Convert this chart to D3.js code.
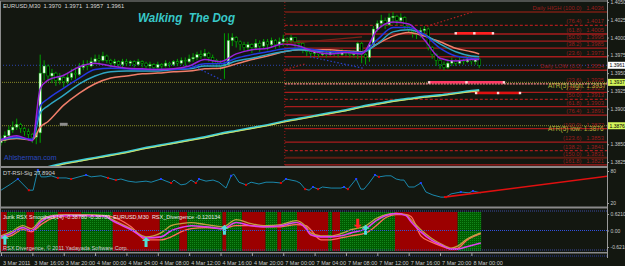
<!DOCTYPE html>
<html>
<head>
<meta charset="utf-8">
<script src="https://d3js.org/d3.v7.min.js"></script>
<style>
body { margin: 0; background: #131710; }
text { font-family: "Liberation Sans", Arial, sans-serif; }
</style>
</head>
<body>
<div id="chart"></div>
<script>
// EURUSD M30 "Walking The Dog" chart
var width = 625, height = 266;
var axisX = 607;

// candles, prices in pips above 1.3800 (open = previous close)
var firstOpen = 52;
var closePips = [55,62,70,74,78,72,68,64,60,66, 150,160,146,150,140,144,138,144,150,148,
  158,162,160,166,170,168,174,168,164,166, 162,166,164,166,162,166,164,160,162,158,
  162,160,164,162,166,164,168,166,170,172, 176,174,178,172,168,164,160,162,196,200,
  194,190,186,190,186,192,188,194,190,196, 190,194,198,196,200,194,192,184,180,178,
  180,176,178,176,180,178,176,180,178,176, 178,192,176,172,190,212,220,224,218,228,
  230,224,228,216,212,208,204,210,212,186, 176,168,162,158,164,168,164,168,166,170,
  166,170,161];
var highPips = [62,68,76,82,86,80,74,72,66,72, 176,168,162,156,152,150,148,150,156,158,
  164,168,168,172,176,176,180,176,170,170, 168,170,170,168,168,170,168,166,166,164,
  166,164,168,166,168,170,172,172,176,178, 180,182,184,180,176,170,168,206,206,206,
  202,196,194,194,192,198,196,198,198,200, 198,200,204,200,204,200,196,194,186,184,
  184,182,184,182,184,182,182,184,182,182, 182,194,194,178,194,216,224,232,228,234,
  236,232,234,230,218,214,212,214,216,214, 188,178,170,166,168,172,170,172,170,174,
  172,172,171];
var lowPips = [48,52,60,66,70,66,62,58,52,50, 52,140,138,136,132,134,130,134,140,142,
  146,154,154,158,162,162,166,164,158,160, 156,158,160,160,158,160,158,156,154,154,
  156,154,158,158,160,160,162,160,164,166, 168,170,172,166,162,158,154,142,160,188,
  186,182,180,182,178,182,180,184,182,186, 184,186,188,188,192,186,184,178,174,172,
  174,172,174,172,174,174,172,174,174,172, 172,170,164,162,166,188,208,214,212,216,
  220,218,220,212,206,200,198,200,206,182, 170,160,156,154,156,160,160,162,162,164,
  162,162,157];

var timeLabels = ["3 Mar 2011","3 Mar 16:00","3 Mar 20:00","4 Mar 00:00","4 Mar 04:00","4 Mar 08:00",
  "4 Mar 12:00","4 Mar 16:00","4 Mar 20:00","7 Mar 00:00","7 Mar 04:00","7 Mar 08:00",
  "7 Mar 12:00","7 Mar 16:00","7 Mar 20:00","8 Mar 00:00"];
// 1.3875 sits under the ATR low box, so it has no label of its own
var priceTicks = [1.4050,1.4025,1.4000,1.3975,1.3950,1.3925,1.3900,1.3850,1.3825];

// moving averages (pips above 1.3800) at these bars
var maBars   = [0,4,8,10,12,16,20,24,28,32,36,40,44,48,52,56,60,64,68,72,76,80,84,88,92,96,100,104,108,112,116,120,122];
var maPurple = [56,62,55,128,140,147,159,164,160,157,156,155,156,160,169,166,177,183,185,191,188,180,177,179,177,211,222,219,197,171,167,169,169];
var maBlue   = [57,60,57,104,114,129,143,155,157,156,155,155,155,157,163,163,171,176,180,184,185,183,180,180,179,197,214,214,204,185,174,171,170];
var maCyan   = [56,59,56,94,104,119,135,146,152,153,153,153,155,156,160,160,167,171,176,180,183,181,180,180,179,191,208,211,204,191,180,174,173];
var maSalmon = [55,58,56,74,82,105,122,135,143,146,149,150,152,153,156,157,163,169,174,180,183,183,183,181,180,191,202,207,202,194,185,180,177];
var maLong   = [null,null,null,null,18,23,27,31,35,39,44,48,52,56,60,65,69,73,77,82,86,90,94,98,103,107,111,114,117,119,122,125,126];

// daily fibonacci levels
var fibBar = 72.4;
var fibPct   = [100.0,76.4,61.8,50.0,38.2,23.6,0.0, 23.6,38.2,50.0,61.8,76.4,100.0,123.6,138.2,150.0,161.8];
var fibPrice = [1.4036,1.4017,1.4005,1.3995,1.3985,1.3973,1.3954, 1.3935,1.3923,1.3913,1.3903,1.3891,1.3872,1.3853,1.3841,1.3831,1.3821];
var fibName  = ["Daily HIGH ","","","","","","Daily LOW ", "","","","","","","","","",""];
var fibStyle = ["dark","dash","solid","solid","solid","solid","solid", "pink","solid","dash","solid","solid","solid","solid","dash","dark","solid"];
var atrHigh = 1.3937, atrLow = 1.3876;

// pivot segments
var segStart = [116, 109.2, 121.2];
var segEnd   = [125.5, 128.3, 132.4];
var segPrice = [1.4006, 1.3937, 1.3922];
var segColor = ["#ff2020", "#ff3a66", "#e01010"];

// trend lines
var trBar0 = [71.9, 108.7, 71.9, 48.7, 78.8];
var trBar1 = [92.1, 120.4, 77.6, 56.4, 92.3];
var trP0   = [1.3991, 1.4016, 1.3954, 1.3961, 1.3973];
var trP1   = [1.4001, 1.4036, 1.3963, 1.3940, 1.3957];
var trColor = ["#7a2018", "#b02020", "#b02020", "#2a40c8", "#2a40c8"];
var trDash  = [null, "1.5,2", "1.5,2", "1.5,2", "1.5,2"];

// DT-RSI-Sig
var rsiBars = [0,2.5,4.3,7.1,8.2,9.4,10.2,11.5,12.8,14.5,16.6,17.9,19.9,21.7,23,25.5,27.3,29.3,30.6,32.4,
  34.4,37,38.3,40.8,42.1,43.4,44.1,45.9,47.2,48.5,49.7,50.5,52.3,54.1,55.6,57.4,58.7,59.4,60.7,62.5,
  63.8,65.8,67.6,69.4,71.4,72.7,75.3,76.3,77.6,78.6,79.6,80.9,82,84.2,86.7,87.5,88.5,90.6,91.8,92.6,
  93.9,95.4,96.4,98.2,99.5,100.8,102,102.8,104,105.4,107.1,108.4,110.2,112.2,113.5,114.8,117.3,119.4,120.4,122.4];
var rsiVals = [44,55.6,65,44,44,82,69,69,71,67,67,65,69,72.5,69,71,67,63,65,61,
  59,61,59,65,61,57.5,63,54,55.6,63,57.5,65,61,63,59,48,71,74,59,54,
  59,55.6,59,59,57.5,65,61,57.5,46,44,50,46,50,48,48,50,46,65,46,46,
  57.5,72.5,69,71,71,65,63,63,50,50,57.5,40.6,35,31,31,37,40.6,39,42.5,39];
var rsiMarks = ["","","b","r","","b","","","","r","","r","","b","","","r","r","","",
  "","","","b","","r","","","","","r","b","","","","","b","","","r",
  "","","","","r","b","","","r","","b","r","","","","b","r","b","","",
  "","b","r","","","","","","","","b","","","","r","","b","","b",""];
var rsiTrendBars = [113, 155];
var rsiTrendVals = [31, 70.5];

// Jurik RSX panel
var bandStarts = [0,2,7,9,15,21,29,41,46,48,57,58,62,68,71,72,76,84,85,87,101,117];
var bandColors = ["r","g","r","g","r","g","r","g","r","g","r","g","r","g","r","g","r","g","r","g","r","g"];
var jBars    = [0,2.5,5.6,7.7,10.2,12.8,16.6,21.7,26.8,28,33.2,37,40.8,43.4,45.9,48.5,52.3,56.6,60,63.8,67.6,71.4,75.3,77.8,79,81.6,84.2,86.7,89.3,93.1,95.7,98.2,100.8,103.3,104.6,107.1,109.7,112.2,114.8,116.6,118.6,122.4];
var jMagenta = [-0.24,-0.12,0.11,-0.01,0.33,0.53,0.56,0.56,0.53,0.41,0.03,-0.28,-0.24,-0.01,0.11,0.18,0.14,0.07,0.30,0.18,0.14,0.18,0.30,0.07,-0.16,-0.24,-0.24,-0.20,-0.09,0.07,0.37,0.56,0.64,0.56,0.33,-0.05,-0.35,-0.54,-0.70,-0.70,-0.62,-0.47];
var jOlive   = [-0.20,-0.05,0.18,0.07,0.41,0.56,0.60,0.60,0.56,0.45,0.07,-0.24,-0.09,0.18,0.26,0.30,0.22,0.14,0.41,0.26,0.18,0.22,0.37,0.14,-0.09,-0.20,-0.20,-0.12,0.03,0.18,0.45,0.60,0.64,0.60,0.41,0.03,-0.28,-0.50,-0.66,-0.58,-0.35,-0.09];
var jSalmon  = [-0.28,-0.20,0.03,-0.05,0.22,0.45,0.56,0.56,0.56,0.53,0.14,-0.35,-0.35,-0.24,-0.05,0.07,0.11,0.07,0.18,0.18,0.14,0.14,0.22,0.18,0.03,-0.35,-0.35,-0.28,-0.20,-0.09,0.18,0.49,0.60,0.60,0.53,-0.20,-0.43,-0.58,-0.70,-0.66,-0.39,-0.12];
var arrowBars = [1, 37, 57, 93, 91];
var arrowVals = [-0.16, -0.24, 0.22, 0.22, 0.07];
var arrowDir  = ["up", "up", "up", "up", "down"];

var x = d3.scaleLinear().domain([0, 155]).range([1, 1 + 155 * 3.92]);
var yP = d3.scaleLinear().domain([1.3825, 1.4050]).range([162, 2]);
var yR = d3.scaleLinear().domain([20, 80]).range([203, 171]);
var yJ = d3.scaleLinear().domain([-0.62107, 0.62107]).range([247, 214]);
var pip = function(v){ return 1.38 + v / 10000; };

var svg = d3.select("#chart").append("svg").attr("width", width).attr("height", height)
  .style("display", "block").style("background", "#131710");

var defs = svg.append("defs");
defs.append("clipPath").attr("id", "clipMain").append("rect").attr("x", 0).attr("y", 2).attr("width", axisX).attr("height", 164);
defs.append("clipPath").attr("id", "clipRsi").append("rect").attr("x", 0).attr("y", 168).attr("width", axisX).attr("height", 38);
defs.append("clipPath").attr("id", "clipJ").append("rect").attr("x", 0).attr("y", 212).attr("width", axisX).attr("height", 39);
var pat = defs.append("pattern").attr("id", "dots").attr("width", 2).attr("height", 2).attr("patternUnits", "userSpaceOnUse");
pat.append("rect").attr("width", 2).attr("height", 2).attr("fill", "#005c00");
pat.append("rect").attr("width", 1).attr("height", 1).attr("fill", "#12861a");

// ---------- main price panel ----------
var main = svg.append("g").attr("clip-path", "url(#clipMain)");

main.selectAll("line.atr").data([atrHigh, atrLow]).enter().append("line")
  .attr("x1", 0).attr("x2", axisX)
  .attr("y1", function(d){ return yP(d); }).attr("y2", function(d){ return yP(d); })
  .attr("stroke", "#8a8a2a").attr("stroke-dasharray", "1,1");

var lastClose = pip(closePips[closePips.length - 1]);
main.append("line").attr("x1", 0).attr("x2", axisX).attr("y1", yP(lastClose)).attr("y2", yP(lastClose))
  .attr("stroke", "#2c44b0").attr("stroke-dasharray", "1,2");

main.append("line").attr("x1", x(fibBar)).attr("x2", x(fibBar)).attr("y1", 2).attr("y2", 166)
  .attr("stroke", "#a01818").attr("stroke-dasharray", "1,2");

var fibColor = { dark: "#5e1c12", dash: "#a81c1c", solid: "#a81c1c", pink: "#ff8a8a" };
main.selectAll("line.fib").data(fibPrice).enter().append("line")
  .attr("x1", x(fibBar)).attr("x2", axisX)
  .attr("y1", function(d){ return yP(d); }).attr("y2", function(d){ return yP(d); })
  .attr("stroke", function(d, i){ return fibColor[fibStyle[i]]; })
  .attr("stroke-width", function(d, i){ return fibStyle[i] === "dark" ? 2 : 1.3; })
  .attr("stroke-dasharray", function(d, i){ return fibStyle[i] === "dash" ? "3,2" : (fibStyle[i] === "pink" ? "2,1" : null); });

main.selectAll("text.fib").data(fibPrice).enter().append("text")
  .attr("x", 604).attr("y", function(d){ return yP(d) - 2; })
  .attr("text-anchor", "end").attr("font-size", "5.8px").attr("fill", "#9a1c1c")
  .style("white-space", "pre")
  .text(function(d, i){ return fibName[i] + "(" + fibPct[i].toFixed(1) + ")   " + d.toFixed(4); });

main.selectAll("text.atr").data([["high", atrHigh], ["low", atrLow]]).enter().append("text")
  .attr("x", 548).attr("y", function(d){ return yP(d[1]) + 5.5; })
  .attr("font-size", "6.5px").attr("fill", "#b4b43a")
  .text(function(d){ return "ATR(5) " + d[0] + ": " + d[1].toFixed(4); });

// candles
var bars = closePips.map(function(c, i){
  return { i: i, o: pip(i ? closePips[i - 1] : firstOpen), h: pip(highPips[i]), l: pip(lowPips[i]), c: pip(c) };
});
var cg = main.append("g");
cg.selectAll("line").data(bars).enter().append("line")
  .attr("x1", function(d){ return x(d.i); }).attr("x2", function(d){ return x(d.i); })
  .attr("y1", function(d){ return yP(d.h); }).attr("y2", function(d){ return yP(d.l); })
  .attr("stroke", "#00a000");
cg.selectAll("rect").data(bars).enter().append("rect")
  .attr("x", function(d){ return x(d.i) - 1.2; }).attr("width", 2.4)
  .attr("y", function(d){ return yP(Math.max(d.o, d.c)); })
  .attr("height", function(d){ return Math.max(0.8, Math.abs(yP(d.o) - yP(d.c))); })
  .attr("fill", function(d){ return d.c >= d.o ? "#f2fff2" : "#000"; })
  .attr("stroke", "#00c000").attr("stroke-width", 0.5);

// moving averages
var maLine = d3.line()
  .defined(function(d){ return d[1] != null; })
  .x(function(d){ return x(d[0]); })
  .y(function(d){ return yP(pip(d[1])); })
  .curve(d3.curveMonotoneX);
function maPts(vals){ return maBars.map(function(b, i){ return [b, vals[i]]; }); }

main.append("path").attr("d", maLine(maPts(maLong))).attr("fill", "none").attr("stroke", "#3ccbd8").attr("stroke-width", 2.2);
main.append("path").attr("d", maLine(maPts(maLong))).attr("transform", "translate(0,0.8)").attr("fill", "none").attr("stroke", "#e4e65a").attr("stroke-width", 0.9);

[[maSalmon, "#f07e6a"], [maCyan, "#2fa6c4"], [maBlue, "#2438e0"], [maPurple, "#9a22d8"]].forEach(function(m){
  main.append("path").attr("d", maLine(maPts(m[0]))).attr("fill", "none").attr("stroke", m[1]).attr("stroke-width", 1.5);
});

// trend lines
trBar0.forEach(function(b, i){
  main.append("line").attr("x1", x(b)).attr("x2", x(trBar1[i]))
    .attr("y1", yP(trP0[i])).attr("y2", yP(trP1[i]))
    .attr("stroke", trColor[i]).attr("stroke-width", 1.2).attr("stroke-dasharray", trDash[i]);
});

// pivot segments
segStart.forEach(function(b, i){
  var yy = yP(segPrice[i]);
  main.append("line").attr("x1", x(b)).attr("x2", x(segEnd[i])).attr("y1", yy).attr("y2", yy)
    .attr("stroke", segColor[i]).attr("stroke-width", 2.5);
  [b, (b + segEnd[i]) / 2, segEnd[i]].forEach(function(bb){
    main.append("rect").attr("x", x(bb) - 1.2).attr("y", yy - 1.2).attr("width", 2.4).attr("height", 2.4).attr("fill", "#ffd8d8");
  });
});

main.append("rect").attr("x", x(15)).attr("width", x(17) - x(15)).attr("y", yP(1.3878) - 1.5).attr("height", 3).attr("fill", "#8c8c8c");

svg.append("text").attr("x", 138).attr("y", 22).attr("font-size", "12.5px").attr("font-weight", "bold")
  .attr("font-style", "italic").attr("fill", "#38c8c8").attr("textLength", 97).attr("lengthAdjust", "spacingAndGlyphs")
  .style("white-space", "pre").text("Walking  The Dog");

var lb = bars[bars.length - 1];
svg.append("text").attr("x", 3).attr("y", 7.5).attr("font-size", "5.8px").attr("fill", "#d8d8d8")
  .style("white-space", "pre")
  .text("EURUSD,M30  " + [lb.o, lb.h, lb.l, lb.c].map(function(v){ return v.toFixed(4); }).join("  "));

svg.append("text").attr("x", 4).attr("y", 160).attr("font-size", "7px").attr("fill", "#2a48c0").text("Ahlsherman.com");

// ---------- RSI panel ----------
var rsiG = svg.append("g").attr("clip-path", "url(#clipRsi)");
var rsiLine = d3.line().x(function(d, i){ return x(rsiBars[i]); }).y(function(d){ return yR(d); });
rsiG.append("path").attr("d", rsiLine(rsiVals)).attr("fill", "none").attr("stroke", "#1a88ac").attr("stroke-width", 1);
rsiG.append("line").attr("x1", x(rsiTrendBars[0])).attr("x2", x(rsiTrendBars[1]))
  .attr("y1", yR(rsiTrendVals[0])).attr("y2", yR(rsiTrendVals[1]))
  .attr("stroke", "#e01010").attr("stroke-width", 1.6);
var rsiDots = rsiVals.map(function(v, i){ return { b: rsiBars[i], v: v, m: rsiMarks[i] }; })
  .filter(function(d){ return d.m !== ""; });
rsiG.selectAll("rect.dot").data(rsiDots).enter().append("rect")
  .attr("x", function(d){ return x(d.b) - 1; })
  .attr("y", function(d){ return yR(d.v) - 1; })
  .attr("width", 2).attr("height", 2)
  .attr("fill", function(d){ return d.m === "r" ? "#e00000" : "#2040ff"; });
svg.append("text").attr("x", 3).attr("y", 174.5).attr("font-size", "5.8px").attr("fill", "#d0d0d0").text("DT-RSI-Sig 27.8904");

// ---------- Jurik RSX panel ----------
var jg = svg.append("g").attr("clip-path", "url(#clipJ)");
var bandEnds = bandStarts.slice(1).concat([123]);
jg.selectAll("rect.band").data(bandStarts).enter().append("rect")
  .attr("x", function(d){ return x(d - 0.5); })
  .attr("width", function(d, i){ return x(bandEnds[i] - 0.5) - x(d - 0.5); })
  .attr("y", 212).attr("height", 39)
  .attr("fill", function(d, i){ return bandColors[i] === "g" ? "url(#dots)" : "#9c0000"; });

[211, 250].forEach(function(yy){
  svg.append("line").attr("x1", 0).attr("x2", axisX).attr("y1", yy).attr("y2", yy)
    .attr("stroke", "#3a4aa0").attr("stroke-dasharray", "1,1");
});
svg.append("line").attr("x1", 0).attr("x2", axisX).attr("y1", yJ(0)).attr("y2", yJ(0))
  .attr("stroke", "#3050e0").attr("stroke-dasharray", "1,1");

var jLine = d3.line().x(function(d, i){ return x(jBars[i]); }).y(function(d){ return yJ(d); }).curve(d3.curveMonotoneX);
[[jSalmon, "#ff6a5a", 1.3], [jOlive, "#c0a040", 1.3], [jMagenta, "#e040f0", 1.6]].forEach(function(s){
  jg.append("path").attr("d", jLine(s[0])).attr("fill", "none").attr("stroke", s[1]).attr("stroke-width", s[2]);
});

arrowBars.forEach(function(b, i){
  var ax = x(b), ay = yJ(arrowVals[i]);
  var p = arrowDir[i] === "up"
    ? "M" + ax + "," + ay + "l4,4h-2.5v6h-3v-6h-2.5z"
    : "M" + ax + "," + ay + "l4,-4h-2.5v-6h-3v6h-2.5z";
  jg.append("path").attr("d", p).attr("fill", arrowDir[i] === "up" ? "#4ee0d8" : "#ff2020");
});

svg.append("text").attr("x", 3).attr("y", 218.5).attr("font-size", "5.5px").attr("fill", "#e8e8e8")
  .style("white-space", "pre")
  .text("Jurik RSX Smoothed(14) -0.38780 -0.38780  EURUSD,M30  RSX_Divergence -0.120134");
svg.append("text").attr("x", 3).attr("y", 250).attr("font-size", "5.5px").attr("fill", "#d0d0d0")
  .text("RSX Divergence, \u00a9 2011 Yadayada Software Corp.");

// ---------- separators, frame ----------
svg.append("line").attr("x1", 0).attr("x2", axisX).attr("y1", 1).attr("y2", 1).attr("stroke", "#8c8c8c");
svg.append("line").attr("x1", 0.5).attr("x2", 0.5).attr("y1", 1).attr("y2", 253).attr("stroke", "#8c8c8c");
[[166, 2], [206.5, 2], [252, 1.5]].forEach(function(s){
  svg.append("rect").attr("x", 0).attr("y", s[0]).attr("width", axisX).attr("height", s[1]).attr("fill", "#8a8a8a");
});
svg.append("line").attr("x1", 0).attr("x2", axisX).attr("y1", 256).attr("y2", 256)
  .attr("stroke", "#2a3a9a").attr("stroke-dasharray", "1,1");
svg.append("line").attr("x1", axisX + 0.5).attr("x2", axisX + 0.5).attr("y1", 0).attr("y2", 258).attr("stroke", "#9a9a9a");

// ---------- axes ----------
function styleAxis(g){
  g.select(".domain").remove();
  g.selectAll("line").attr("stroke", "#a0a0a0");
  g.selectAll("text").attr("fill", "#c8c8c8").attr("font-size", "5.5px").attr("font-family", "Liberation Sans, Arial, sans-serif");
}
function styleRight(g){
  styleAxis(g);
  g.selectAll("text").attr("font-size", "5px");
}
svg.append("g").attr("transform", "translate(" + axisX + ",0)")
  .call(d3.axisRight(yP).tickValues(priceTicks).tickSize(2).tickPadding(1.5).tickFormat(d3.format(".4f")))
  .call(styleRight);
svg.append("g").attr("transform", "translate(" + axisX + ",0)")
  .call(d3.axisRight(yR).tickValues([80, 20]).tickSize(2).tickPadding(1.5))
  .call(styleRight);
svg.append("g").attr("transform", "translate(" + axisX + ",0)")
  .call(d3.axisRight(yJ).tickValues([0.62107, 0, -0.62107]).tickSize(2).tickPadding(1.5)
    .tickFormat(function(d){ return d === 0 ? "0.00" : d.toFixed(5); }))
  .call(styleRight);

var tx = svg.append("g").attr("transform", "translate(0,253)")
  .call(d3.axisBottom(x).tickValues(d3.range(0, 121, 8)).tickSize(3)
    .tickFormat(function(d, i){ return timeLabels[i]; }))
  .call(styleAxis);
tx.selectAll("text").attr("text-anchor", "start").attr("x", 1.5).attr("dy", "1em");

// price label boxes on the axis
[[lastClose, "#ffffff"], [atrHigh, "#d4f55a"], [atrLow, "#d4f55a"]].forEach(function(b){
  var yy = yP(b[0]);
  svg.append("rect").attr("x", axisX + 1).attr("y", yy - 3.5).attr("width", 17).attr("height", 7).attr("fill", b[1]);
  svg.append("text").attr("x", axisX + 2.5).attr("y", yy + 2).attr("font-size", "5px").attr("fill", "#000").text(b[0].toFixed(4));
});
</script>
</body>
</html>
